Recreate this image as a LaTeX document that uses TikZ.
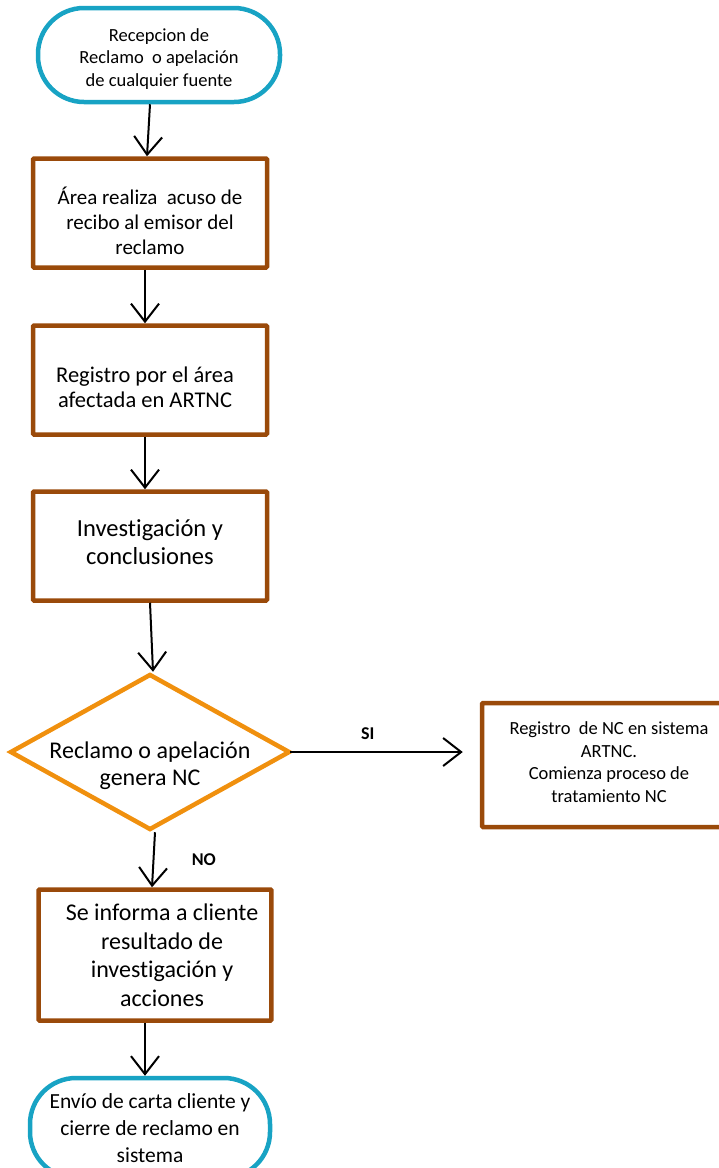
\documentclass[tikz,border=0pt]{standalone}
\usepackage{fontspec}
\setmainfont{Carlito}[Ligatures=NoCommon]
\usetikzlibrary{shapes.geometric,arrows.meta}

\definecolor{termcyan}{RGB}{24,163,196}
\definecolor{procbrown}{RGB}{154,74,10}
\definecolor{decorange}{RGB}{240,144,14}

\tikzset{
    terminal/.style={draw=termcyan, line width=4.5pt, rounded corners=46pt, fill=white,
        minimum width=242pt, minimum height=94pt, align=center},
    procbox/.style={draw=procbrown, line width=4.5pt, rounded corners=1pt, fill=white,
        minimum width=234pt, minimum height=109pt, align=center},
    decision/.style={draw=decorange, line width=4.5pt, diamond, inner sep=0pt,
        minimum width=280pt, minimum height=156pt},
    flow/.style={-{Straight Barb[length=18pt,width=28pt]}, line width=2pt},
    tag/.style={font=\bfseries\fontsize{18}{21}\selectfont}
}

\begin{document}
\begin{tikzpicture}[x=1pt,y=-1pt]
    \useasboundingbox (0,0) rectangle (719,1168);

    % Inicio
    \node[terminal, font=\fontsize{18.5}{22.5}\selectfont] (recep) at (159,55)
        {\parbox{220pt}{\centering\vspace*{8pt}Recepcion de\\Reclamo\ \ o apelación\\de cualquier fuente}};

    % Pasos del proceso
    \node[procbox, font=\fontsize{21}{25}\selectfont] (acuso) at (150,213)
        {\parbox{226pt}{\centering\vspace*{16pt}Área realiza\ \ acuso de\\recibo al emisor del\\reclamo}};
    \node[procbox, font=\fontsize{22.5}{25}\selectfont] (regist) at (150,380)
        {\parbox{210pt}{\centering\vspace*{14pt}Registro por el área\\afectada en ARTNC}\hspace*{10pt}};
    \node[procbox, font=\fontsize{24.5}{28}\selectfont] (invest) at (150,546)
        {\parbox{220pt}{\centering Investigación y\\conclusiones\par\vspace*{8pt}}};

    % Decision
    \node[decision] (genera) at (150,752) {};
    \node[font=\fontsize{24}{27}\selectfont, align=center] (generatxt) at (150,766)
        {Reclamo o apelación\\genera NC};

    \node[procbox, font=\fontsize{18.5}{22.5}\selectfont, minimum width=242pt, minimum height=124pt]
        (regnc) at (603,765)
        {\hspace*{12pt}\parbox{220pt}{\centering Registro\ \ de NC en sistema\\ARTNC.\\Comienza proceso de\\tratamiento NC\par\vspace*{6pt}}};

    \node[procbox, font=\fontsize{24}{28.5}\selectfont, minimum width=232pt, minimum height=131pt]
        (informa) at (155,955)
        {\hspace*{14pt}\parbox{212pt}{\centering Se informa a cliente\\resultado de\\investigación y\\acciones}};

    % Fin
    \node[terminal, font=\fontsize{21.5}{27}\selectfont, minimum width=240pt, minimum height=100pt]
        (cierre) at (150,1128)
        {Envío de carta cliente y\\cierre de reclamo en\\sistema};

    % Conectores
    \draw[flow] ([xshift=-9pt]recep.south) -- ([xshift=-3pt]acuso.north);
    \draw[flow] ([xshift=-5pt]acuso.south) -- ([xshift=-5pt]regist.north);
    \draw[flow] ([xshift=-5pt]regist.south) -- ([xshift=-5pt]invest.north);
    \draw[flow] (invest.south) -- ([xshift=3pt]genera.north);
    \draw[flow] ([xshift=-2pt]genera.east) -- ([xshift=-17pt]genera.east -| regnc.west) node[tag, pos=0.45, above=8pt] {SI};
    \draw[flow] ([xshift=5pt]genera.south) -- ([xshift=-3pt]informa.north) node[tag, midway, right=34pt] {NO};
    \draw[flow] ([xshift=-10pt]informa.south) -- ([xshift=-5pt]cierre.north);

\end{tikzpicture}
\end{document}
